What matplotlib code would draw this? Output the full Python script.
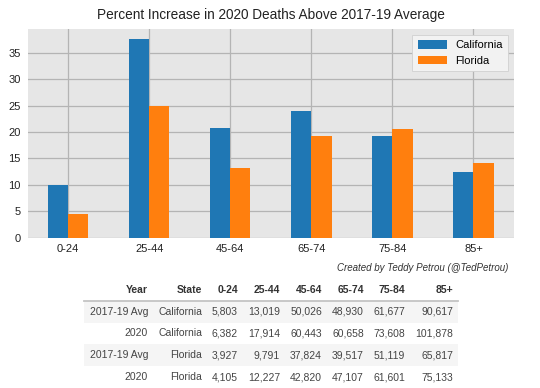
import numpy as np
import matplotlib.pyplot as plt
from matplotlib.patches import Rectangle

# data
age_groups = ["0-24", "25-44", "45-64", "65-74", "75-84", "85+"]
pct_california = [10.0, 37.6, 20.8, 24.0, 19.3, 12.4]
pct_florida = [4.5, 24.9, 13.2, 19.2, 20.5, 14.2]

table_header = ["Year", "State"] + age_groups
table_years = ["2017-19 Avg", "2020", "2017-19 Avg", "2020"]
table_states = ["California", "California", "Florida", "Florida"]
deaths_0_24 = ["5,803", "6,382", "3,927", "4,105"]
deaths_25_44 = ["13,019", "17,914", "9,791", "12,227"]
deaths_45_64 = ["50,026", "60,443", "37,824", "42,820"]
deaths_65_74 = ["48,930", "60,658", "39,517", "47,107"]
deaths_75_84 = ["61,677", "73,608", "51,119", "61,601"]
deaths_85 = ["90,617", "101,878", "65,817", "75,133"]

plt.rcParams['font.family'] = ['Liberation Sans', 'DejaVu Sans']

W, H = 540, 388
fig = plt.figure(figsize=(W / 100, H / 100), dpi=100)

def fx(px):
    return px / W

def fy(py):
    return 1 - py / H

# bar chart
ax = fig.add_axes([fx(27.5), fy(237.5), fx(514) - fx(27.5), (237.5 - 29) / H])
ax.set_facecolor("#e6e6e6")
x = np.arange(len(age_groups))
w = 0.25
ax.bar(x - w / 2, pct_california, w, color="#1f77b4", label="California", zorder=2)
ax.bar(x + w / 2, pct_florida, w, color="#ff7f0e", label="Florida", zorder=2)
ax.set_xlim(-0.5, len(age_groups) - 0.5)
ax.set_ylim(0, 39.5)
ax.set_xticks(x)
ax.set_xticklabels(age_groups)
ax.set_yticks(range(0, 40, 5))
ax.grid(True, color="#b4b4b4", linewidth=0.9, zorder=0)
ax.set_axisbelow(True)
for s in ax.spines.values():
    s.set_visible(False)
ax.tick_params(length=0, labelsize=8, colors="#222222", pad=5)
ax.set_title("Percent Increase in 2020 Deaths Above 2017-19 Average",
             fontsize=9.8, color="#222222", pad=7)
leg = ax.legend(loc="upper right", fontsize=8, facecolor="#f2f2f2",
                edgecolor="#d0d0d0", framealpha=1, fancybox=False,
                handlelength=2.6, handleheight=0.8, borderpad=0.5)
leg.get_frame().set_linewidth(0.6)

fig.text(fx(508), fy(268), "Created by Teddy Petrou (@TedPetrou)",
         ha="right", va="center", fontsize=7, style="italic", color="#333333")

# table
col_right = [148, 202, 238, 280, 322, 364, 405, 453]
tbl_left, tbl_right = 84, 458
header_y = 290
row_y = [312, 333, 355, 377]
row_h = 22

for i, yy in enumerate(row_y):
    if i % 2 == 0:
        fig.add_artist(Rectangle((fx(tbl_left), fy(yy + row_h / 2)),
                                 fx(tbl_right) - fx(tbl_left), row_h / H,
                                 transform=fig.transFigure,
                                 facecolor="#f5f5f5", edgecolor="none", zorder=0))
fig.add_artist(plt.Line2D([fx(tbl_left), fx(tbl_right)], [fy(300.5), fy(300.5)],
                          transform=fig.transFigure, color="#c4c4c4", linewidth=1.3))

for c, txt in enumerate(table_header):
    fig.text(fx(col_right[c]), fy(header_y), txt, ha="right", va="center",
             fontsize=7.5, fontweight="bold", color="#333333")

columns = [table_years, table_states, deaths_0_24, deaths_25_44,
           deaths_45_64, deaths_65_74, deaths_75_84, deaths_85]
for c, col in enumerate(columns):
    for r, txt in enumerate(col):
        fig.text(fx(col_right[c]), fy(row_y[r]), txt, ha="right", va="center",
                 fontsize=7.5, color="#444444")

fig.savefig("out.png", dpi=100)
